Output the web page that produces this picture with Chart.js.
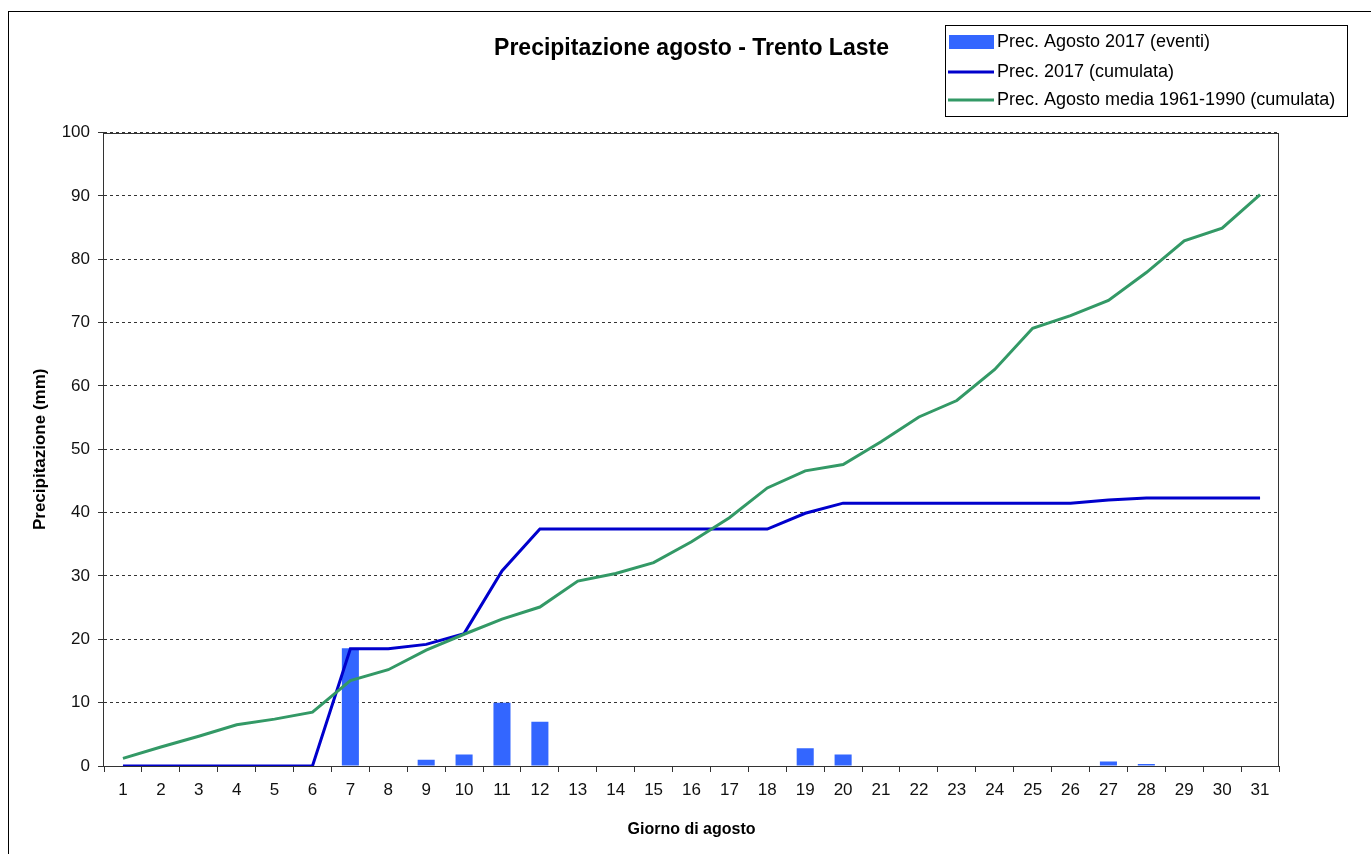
<!DOCTYPE html>
<html><head><meta charset="utf-8">
<script src="https://cdn.jsdelivr.net/npm/chart.js@4/dist/chart.umd.min.js"></script>
<style>html,body{margin:0;padding:0;background:#fff;}#wrap{position:relative;width:1371px;height:854px;overflow:hidden;}</style>
</head><body><div id="wrap"><canvas id="c" width="1371" height="854"></canvas></div>
<script>
const days = ['1','2','3','4','5','6','7','8','9','10','11','12','13','14','15','16','17','18','19','20','21','22','23','24','25','26','27','28','29','30','31'];
const eventi2017 = [0,0,0,0,0,0,18.6,0,1.0,1.8,10.0,7.0,0,0,0,0,0,0,2.8,1.8,0,0,0,0,0,0,0.7,0.3,0,0,0];
const cumulata2017 = [0,0,0,0,0,0,18.5,18.5,19.2,20.9,30.8,37.4,37.4,37.4,37.4,37.4,37.4,37.4,39.9,41.5,41.5,41.5,41.5,41.5,41.5,41.5,42.0,42.3,42.3,42.3,42.3];
const media6190 = [1.2,3.0,4.7,6.5,7.4,8.5,13.5,15.2,18.3,20.8,23.2,25.1,29.2,30.4,32.1,35.4,39.2,43.9,46.6,47.6,51.2,55.1,57.7,62.6,69.1,71.1,73.5,77.9,82.9,84.9,90.2];
const labels = ['Prec. Agosto 2017 (eventi)','Prec. 2017 (cumulata)','Prec. Agosto media 1961-1990 (cumulata)'];
const titleText = 'Precipitazione agosto - Trento Laste';
const xTitle = 'Giorno di agosto';
const yTitle = 'Precipitazione (mm)';

Chart.defaults.font.family = "'Liberation Sans', Arial, sans-serif";
Chart.defaults.color = '#000';

const framePlugin = {
  id: 'frame',
  beforeDraw(chart) {
    const ctx = chart.ctx;
    ctx.save();
    ctx.fillStyle = '#fff';
    ctx.fillRect(0, 0, chart.width, chart.height);
    ctx.strokeStyle = '#000';
    ctx.lineWidth = 1;
    ctx.strokeRect(8.5, 11.5, 1500, 1000);
    ctx.restore();
  },
  beforeDatasetsDraw(chart) {
    const a = chart.chartArea, ctx = chart.ctx;
    ctx.save();
    ctx.strokeStyle = '#333';
    ctx.lineWidth = 1;
    ctx.strokeRect(Math.round(a.left) - 0.5, Math.round(a.top) + 0.5, Math.round(a.right - a.left), Math.round(a.bottom - a.top));
    ctx.restore();
  },
  afterDraw(chart) {
    const ctx = chart.ctx;
    ctx.save();
    ctx.fillStyle = '#fff';
    ctx.fillRect(945.5, 25.5, 402, 91);
    ctx.strokeStyle = '#000';
    ctx.lineWidth = 1;
    ctx.strokeRect(945.5, 25.5, 402, 91);
    const ds = chart.data.datasets;
    const rows = [42, 72, 100];
    ctx.font = "18px 'Liberation Sans', Arial, sans-serif";
    ctx.textBaseline = 'middle';
    ctx.textAlign = 'left';
    ds.forEach((d, i) => {
      const y = rows[i];
      if (d.type === 'bar') {
        ctx.fillStyle = d.backgroundColor;
        ctx.fillRect(949, y - 7, 45, 14);
      } else {
        ctx.strokeStyle = d.borderColor;
        ctx.lineWidth = 3;
        ctx.beginPath();
        ctx.moveTo(948, y);
        ctx.lineTo(994, y);
        ctx.stroke();
      }
      ctx.fillStyle = '#000';
      ctx.fillText(d.label, 997, y);
    });
    ctx.restore();
  }
};

new Chart(document.getElementById('c'), {
  data: {
    labels: days,
    datasets: [
      { type: 'bar', label: labels[0], data: eventi2017, backgroundColor: '#3366ff', borderWidth: 0, barPercentage: 0.45, categoryPercentage: 1, order: 3 },
      { type: 'line', label: labels[1], data: cumulata2017, borderColor: '#0000cc', backgroundColor: '#0000cc', borderWidth: 3, pointRadius: 0, tension: 0, fill: false, order: 2 },
      { type: 'line', label: labels[2], data: media6190, borderColor: '#339966', backgroundColor: '#339966', borderWidth: 3, pointRadius: 0, tension: 0, fill: false, order: 1 }
    ]
  },
  options: {
    responsive: false,
    animation: false,
    devicePixelRatio: 1,
    layout: { padding: { left: 0, right: 92, top: 0, bottom: 0 } },
    plugins: {
      legend: { display: false },
      tooltip: { enabled: false },
      title: {
        display: true, text: titleText, fullSize: false, color: '#000',
        font: { size: 23, weight: 'bold' },
        padding: { top: 35, bottom: 70 }
      }
    },
    scales: {
      x: {
        offset: true,
        grid: { offset: true, drawOnChartArea: false, drawTicks: true, tickLength: 6, color: '#333', tickColor: '#333' },
        border: { display: true, color: '#333' },
        ticks: { font: { size: 17 }, color: '#111', padding: 8, maxRotation: 0, autoSkip: false },
        title: { display: true, text: xTitle, color: '#000', font: { size: 16, weight: 'bold' }, padding: { top: 4, bottom: 15 } },
        afterFit(s) { s.height = 88; }
      },
      y: {
        min: 0, max: 100,
        grid: { color: '#333', tickColor: '#333', tickLength: 6, borderDash: [3, 3], tickBorderDash: [] },
        border: { display: false, dash: [3, 3] },
        ticks: { stepSize: 10, font: { size: 17 }, color: '#111', padding: 8 },
        title: { display: true, text: yTitle, color: '#000', font: { size: 17, weight: 'bold' }, padding: { top: 30, bottom: 0 } },
        afterFit(s) { s.width = 104; }
      }
    }
  },
  plugins: [framePlugin]
});
</script></body></html>
